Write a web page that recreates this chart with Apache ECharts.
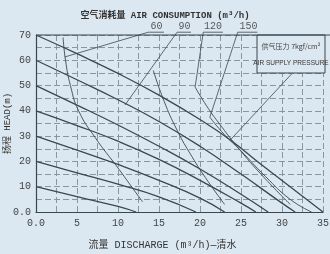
<!DOCTYPE html>
<html><head><meta charset="utf-8">
<script src="https://cdn.jsdelivr.net/npm/echarts@6/dist/echarts.min.js"></script>
<style>html,body{margin:0;padding:0;background:#dce8f1;}#c{width:330px;height:254px;}</style>
</head><body><div id="c"></div>
<script>
// ---- tick labels ----
const xTicks = [0, 5, 10, 15, 20, 25, 30, 35];
const yTicks = [0, 10, 20, 30, 40, 50, 60, 70];
// ---- head curves by supply pressure (kgf/cm2) : [flow, head] ----
const head7 = [[0,70],[5,62.6],[10,54.8],[15,46.2],[20,36.6],[23.7,28.5],[27,20],[30,12.5],[35,0]];
const head6 = [[0,60],[5,52.3],[10,44.4],[15,35.8],[20,26],[25,15],[30,3.5],[31.6,0]];
const head5 = [[0,50],[5,42.3],[10,34.4],[15,26],[20,17],[25,7],[28.3,0]];
const head4 = [[0,40],[5,34.2],[10,28],[15,20.8],[20,12.5],[25,3.5],[26.8,0]];
const head3 = [[0,30],[5,24.5],[10,18.8],[15,12.5],[20,5.5],[23,0]];
const head2 = [[0,20],[5,15.5],[10,11],[15,6],[19.5,0]];
const head1 = [[0,10],[5,6.1],[10,2.2],[12.2,0]];
// ---- air consumption curves (m3/h) ----
const air60  = [[3.3,69],[3.6,60],[4.2,50],[5.2,40],[7.2,29.5],[10,17.4],[11.5,10.7],[13,4]];
const air90  = [[14.3,56],[15.6,44],[17.2,32.4],[19,22],[21,12],[23,3]];
const air120 = [[19.4,49.4],[20.8,42],[22.2,35.6],[25,24],[28,13],[31,3]];
const air150 = [[21.2,37.5],[23,30.5],[24.9,24.5],[28,14],[31,5],[33.6,0]];
// ---- leaders from labels ----
const lead60  = [[15.6,71.1],[13.7,71.1],[3.5,61.3]];
const lead90  = [[18.9,71.1],[17.2,71.1],[10.85,42.3]];
const lead120 = [[22.8,71.1],[20.4,71.1],[19.4,49.4]];
const lead150 = [[27.0,71.1],[24.6,71.1],[21.2,37.5]];
const leadBox = [[31.2,54.7],[23.7,28.5]];
const airLabels = [['60',[14.7,73.6]],['90',[18.1,73.6]],['120',[21.6,73.6]],['150',[25.9,73.6]]];

const LC = '#3b474e';
const MONO = '"Liberation Mono","Noto Sans CJK SC",monospace';
function line(d, w, clip){ return {type:'line', data:d, smooth:true, symbol:'none', clip: clip!==false, lineStyle:{color:LC, width:w}, z:3, silent:true}; }
function straight(d, w){ return {type:'line', data:d, smooth:false, symbol:'none', clip:false, lineStyle:{color:LC, width:w}, z:3, silent:true}; }

const chart = echarts.init(document.getElementById('c'), null, {renderer:'canvas'});
const series = [
  line(head7,1.3), line(head6,1.3), line(head5,1.3), line(head4,1.3), line(head3,1.3), line(head2,1.3), line(head1,1.3),
  line(air60,0.9), line(air90,0.9), line(air120,0.9), line(air150,0.9),
  straight(lead60,0.8), straight(lead90,0.8), straight(lead120,0.8), straight(lead150,0.8), straight(leadBox,0.8),
  {type:'scatter', data: airLabels.map(a=>({value:a[1], name:a[0]})), symbolSize:0, clip:false, silent:true,
   label:{show:true, formatter:p=>p.name, position:'inside', color:'#333', fontSize:10, fontFamily:MONO}}
];
chart.setOption({
  backgroundColor:'#dce8f1',
  animation:false,
  grid:{left:36, right:7, top:35, bottom:42, show:false, containLabel:false, outerBoundsMode:'none'},
  title:[
    {text:'空气消耗量 AIR CONSUMPTION (m³/h)', left:'center', top:6, textStyle:{fontSize:9, fontWeight:'bold', color:'#333', fontFamily:MONO}},
  ],
  xAxis:{type:'value', min:0, max:35, interval:2.5,
    axisLine:{show:true, onZero:false, lineStyle:{color:'#3b474e', width:1.2}},
    axisTick:{show:false},
    axisLabel:{color:'#444', fontSize:10, fontFamily:MONO, margin:6,
      formatter:v=> xTicks.indexOf(v)<0 ? '' : (v===0?'0.0':String(v))},
    splitLine:{show:true, lineStyle:{color:'#8797a0', type:[6,3], width:1}},
    name:'流量 DISCHARGE (m³/h)—清水', nameLocation:'middle', nameGap:28, nameMoveOverlap:false,
    nameTextStyle:{color:'#333', fontSize:10, fontFamily:MONO, padding:[0,34,0,0]}
  },
  yAxis:{type:'value', min:0, max:70, interval:5,
    axisLine:{show:true, onZero:false, lineStyle:{color:'#3b474e', width:1.2}},
    axisTick:{show:false},
    axisLabel:{color:'#444', fontSize:10, fontFamily:MONO, margin:5,
      formatter:v=> yTicks.indexOf(v)<0 ? '' : (v===0?'0.0':String(v))},
    splitLine:{show:true, lineStyle:{color:'#8797a0', type:[6,3], width:1}},
    name:'扬程 HEAD(m)', nameLocation:'middle', nameGap:24, nameRotate:90, nameMoveOverlap:false,
    nameTextStyle:{color:'#333', fontSize:9, fontFamily:MONO}
  },
  series: series
});
const pTL = chart.convertToPixel({gridIndex:0},[0,70]);
chart.setOption({graphic:[
  {type:'line', shape:{x1:pTL[0], y1:pTL[1], x2:330, y2:pTL[1]}, style:{stroke:LC, lineWidth:1.2}, z:10},
  {type:'rect', shape:{x:257, y:pTL[1], width:68, height:38}, style:{fill:'#dce8f1', stroke:LC, lineWidth:1}, z:9},
  {type:'text', x:291, y:46, style:{text:'供气压力 7kgf/cm²', fill:'#444', font:'7px "Noto Sans CJK SC",sans-serif', align:'center', verticalAlign:'middle'}, z:11},
  {type:'text', x:291, y:63, style:{text:'AIR SUPPLY PRESSURE', fill:'#333', font:'6.5px "Liberation Sans",sans-serif', align:'center', verticalAlign:'middle'}, z:11}
]});
</script></body></html>
